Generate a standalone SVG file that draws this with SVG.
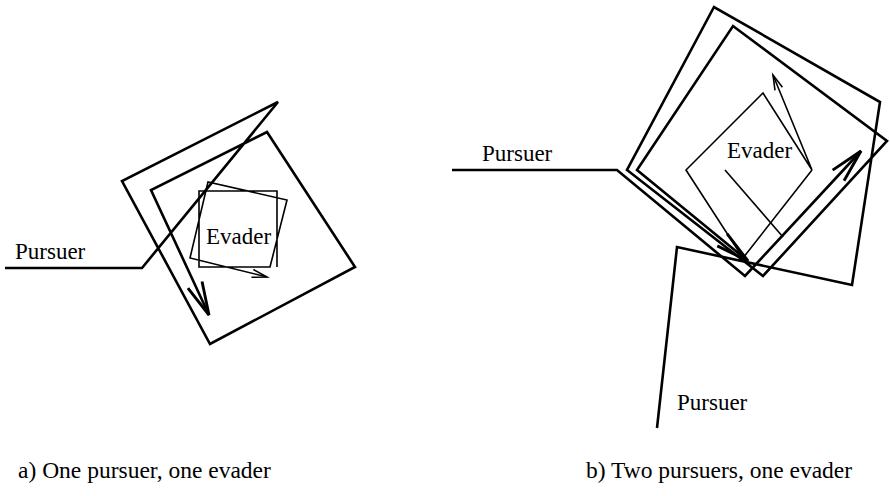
<svg xmlns="http://www.w3.org/2000/svg" width="890" height="496" viewBox="0 0 890 496">
<style>
.thick{fill:none;stroke:#000;stroke-width:2.6;stroke-linejoin:miter;stroke-linecap:butt}
.thin{fill:none;stroke:#000;stroke-width:1.6;stroke-linejoin:miter}
text{font-family:"Liberation Serif","Times New Roman",serif;font-size:23px;fill:#000}
.cap{font-size:23.5px}
</style>
<defs>
<marker id="bigArrow" markerUnits="userSpaceOnUse" orient="auto" markerWidth="40" markerHeight="30" refX="0" refY="0" viewBox="-34 -12 36 24" overflow="visible">
<path d="M-30,-7 L0,0 L-30,7" fill="none" stroke="#000" stroke-width="2.6"/>
</marker>
<marker id="smallArrow" markerUnits="userSpaceOnUse" orient="auto" markerWidth="20" markerHeight="14" refX="0" refY="0" viewBox="-18 -7 20 14" overflow="visible">
<path d="M-15,-4 L0,0 L-15,4" fill="none" stroke="#000" stroke-width="1.6"/>
</marker>
</defs>
<rect width="890" height="496" fill="#fff"/>

<g id="figure-a">
  <g id="a-pursuer">
    <path class="thick" d="M5,268 L142,268 L278,102 L122,181 L210,344 L355,267 L267,132 L151,190 L209,315" marker-end="url(#bigArrow)"/>
    <text x="15" y="259">Pursuer</text>
  </g>
  <g id="a-evader">
    <path class="thin" d="M277,267 L277,191 L199,191 L199,267 L270,267 L287,200 L208,182 L190,258 L267,277" marker-end="url(#smallArrow)"/>
    <text x="206" y="244">Evader</text>
  </g>
</g>

<g id="figure-b">
  <g id="b-pursuer-1">
    <path class="thick" d="M452,170 L617,170 L745,276 L861,151" marker-end="url(#bigArrow)"/>
    <text x="482" y="161">Pursuer</text>
  </g>
  <g id="b-pursuer-2">
    <path class="thick" d="M657,428 L677,247 L852,285 L880,102 L714,7 L627,170 L763,276 L887,141 L733,26 L637,170 L748,261" marker-end="url(#bigArrow)"/>
    <text x="677" y="410">Pursuer</text>
  </g>
  <g id="b-evader">
    <path class="thin" d="M725,170 L783,237"/>
    <path class="thin" d="M812,170 L743,258 L686,170 L763,93 L812,170 L773,75" marker-end="url(#smallArrow)"/>
    <text x="727" y="158">Evader</text>
  </g>
</g>

<g id="captions">
  <text class="cap" x="18" y="478">a) One pursuer, one evader</text>
  <text class="cap" x="586" y="478">b) Two pursuers, one evader</text>
</g>
</svg>
